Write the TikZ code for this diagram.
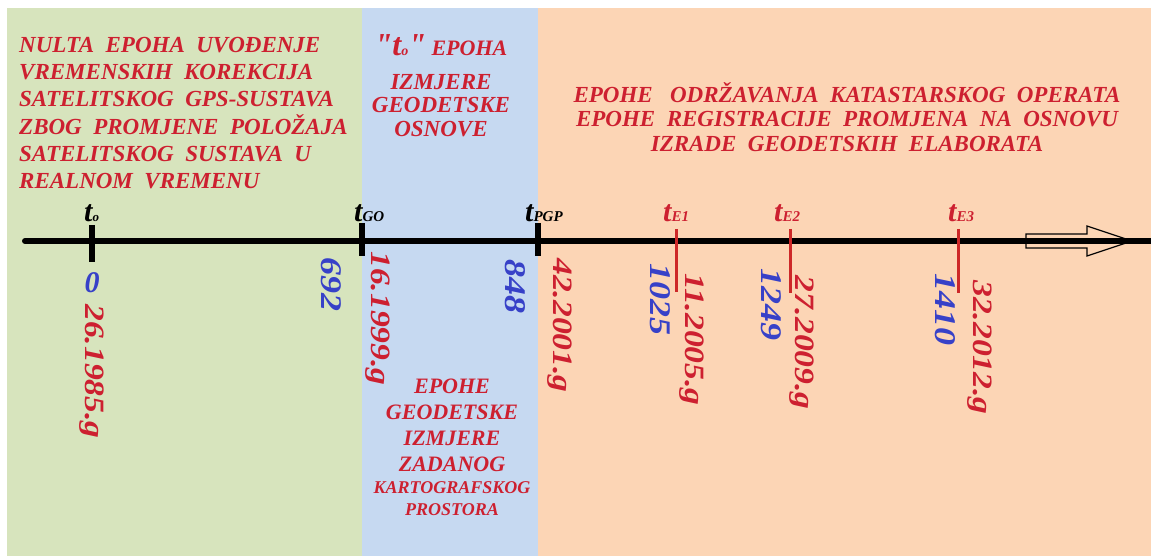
\documentclass[tikz,border=0pt]{standalone}
\usepackage{fontspec}
\setmainfont{Liberation Serif}
\newfontfamily\numfont[FakeStretch=1.2]{Liberation Serif}
\newcommand{\sq}{{\XeTeXglyph\XeTeXcharglyph"22}}
\definecolor{pgreen}{HTML}{D7E4BD}
\definecolor{pblue}{HTML}{C6D9F1}
\definecolor{porange}{HTML}{FCD5B5}
\definecolor{txtred}{RGB}{205,32,48}
\definecolor{numblue}{RGB}{55,65,200}
\definecolor{tickred}{RGB}{205,40,40}
\begin{document}
\begin{tikzpicture}[x=1pt,y=-1pt,
  blk/.style={inner sep=0pt, text=txtred, font=\bfseries\itshape\fontsize{23}{27.2}\selectfont},
  tlab/.style={inner sep=0pt, anchor=base west, font=\bfseries\itshape},
  datelbl/.style={inner sep=0pt, rotate=-90, anchor=west, text=txtred, font=\numfont\bfseries\itshape\fontsize{28}{28}\selectfont},
  numlbl/.style={inner sep=0pt, rotate=-90, anchor=west, text=numblue, font=\numfont\bfseries\itshape\fontsize{30}{30}\selectfont},
  blacktick/.style={line width=6pt},
  redtick/.style={line width=3pt, draw=tickred}
]
\useasboundingbox (0,0) rectangle (1151,556);
\fill[white] (0,0) rectangle (1151,556);
\fill[pgreen] (7,8) rectangle (362,556);
\fill[pblue] (362,8) rectangle (538,556);
\fill[porange] (538,8) rectangle (1151,556);

% text blocks
\node[blk, anchor=north west, align=left] (b1) at (19,37)
 {NULTA\ \ EPOHA\ \ UVOĐENJE\\VREMENSKIH\ \ KOREKCIJA\\SATELITSKOG\ \ GPS-SUSTAVA\\ZBOG\ \ PROMJENE\ \ POLOŽAJA\\SATELITSKOG\ \ SUSTAVA\ \ U\\REALNOM\ \ VREMENU};

\node[blk, anchor=base] (b2a) at (441,56)
 {\fontsize{32}{32}\selectfont\sq t\fontsize{14}{14}\selectfont o\fontsize{32}{32}\selectfont\sq\fontsize{22}{22}\selectfont\ EPOHA};
\node[blk, anchor=north, align=center, font=\bfseries\itshape\fontsize{23}{23.5}\selectfont] (b2b) at (441,74)
 {IZMJERE\\GEODETSKE\\OSNOVE};

\node[blk, anchor=north, align=center, font=\bfseries\itshape\fontsize{23}{24.5}\selectfont] (b3) at (847,82)
 {EPOHE\ \ \ ODRŽAVANJA\ \ KATASTARSKOG\ \ OPERATA\\EPOHE\ \ REGISTRACIJE\ \ PROMJENA\ \ NA\ \ OSNOVU\\IZRADE\ \ GEODETSKIH\ \ ELABORATA};

\node[blk, anchor=north, align=center, font=\bfseries\itshape\fontsize{22}{26}\selectfont] (b4a) at (452,379)
 {EPOHE\\GEODETSKE\\IZMJERE\\ZADANOG};
\node[blk, anchor=north, align=center, font=\bfseries\itshape\fontsize{18}{22}\selectfont] (b4b) at (452,481)
 {KARTOGRAFSKOG\\PROSTORA};

% axis
\coordinate (axL) at (25,241);
\coordinate (axR) at (1151,241);
\draw[line width=6pt, line cap=round] (axL) -- (axR);

% black ticks
\coordinate (k0a) at (92,225); \coordinate (k0b) at (92,262);
\coordinate (k1a) at (362,223); \coordinate (k1b) at (362,256);
\coordinate (k2a) at (538,223); \coordinate (k2b) at (538,256);
\draw[blacktick] (k0a) -- (k0b);
\draw[blacktick] (k1a) -- (k1b);
\draw[blacktick] (k2a) -- (k2b);

% red ticks
\coordinate (e1a) at (676,229); \coordinate (e1b) at (676,292);
\coordinate (e2a) at (790,229); \coordinate (e2b) at (790,293);
\coordinate (e3a) at (958,229); \coordinate (e3b) at (958,293);
\draw[redtick] (e1a) -- (e1b);
\draw[redtick] (e2a) -- (e2b);
\draw[redtick] (e3a) -- (e3b);

% hollow arrow
\coordinate (h1) at (1026,234); \coordinate (h2) at (1087,234);
\coordinate (h3) at (1087,226); \coordinate (h4) at (1132,241);
\coordinate (h5) at (1087,256); \coordinate (h6) at (1087,248);
\coordinate (h7) at (1026,248);
\draw[line width=1.2pt, line join=miter] (h1) -- (h2) -- (h3) -- (h4) -- (h5) -- (h6) -- (h7) -- cycle;

% t labels
\node[tlab] (t0) at (84,222) {\fontsize{30}{30}\selectfont t\fontsize{13}{13}\selectfont o};
\node[tlab] (t1) at (354,222) {\fontsize{30}{30}\selectfont t\fontsize{15}{15}\selectfont GO};
\node[tlab] (t2) at (525,222) {\fontsize{30}{30}\selectfont t\fontsize{15}{15}\selectfont PGP};
\node[tlab, text=txtred] (t3) at (663,222) {\fontsize{30}{30}\selectfont t\fontsize{15}{15}\selectfont E1};
\node[tlab, text=txtred] (t4) at (774,222) {\fontsize{30}{30}\selectfont t\fontsize{15}{15}\selectfont E2};
\node[tlab, text=txtred] (t5) at (948,222) {\fontsize{30}{30}\selectfont t\fontsize{15}{15}\selectfont E3};

% numbers
\node[inner sep=0pt, text=numblue, font=\bfseries\itshape\fontsize{30}{30}\selectfont] (n0) at (92,283) {0};
\node[numlbl] (n1) at (331,257) {692};
\node[numlbl] (n2) at (515,259) {848};
\node[numlbl] (n3) at (660,263) {1025};
\node[numlbl] (n4) at (771,268) {1249};
\node[numlbl] (n5) at (945,273) {1410};

% dates
\node[datelbl] (d0) at (92,304) {26.1985.g};
\node[datelbl] (d1) at (378,251) {16.1999.g};
\node[datelbl] (d2) at (560,258) {42.2001.g};
\node[datelbl] (d3) at (692,273) {11.2005.g};
\node[datelbl] (d4) at (802,275) {27.2009.g};
\node[datelbl] (d5) at (980,280) {32.2012.g};
\end{tikzpicture}
\end{document}
